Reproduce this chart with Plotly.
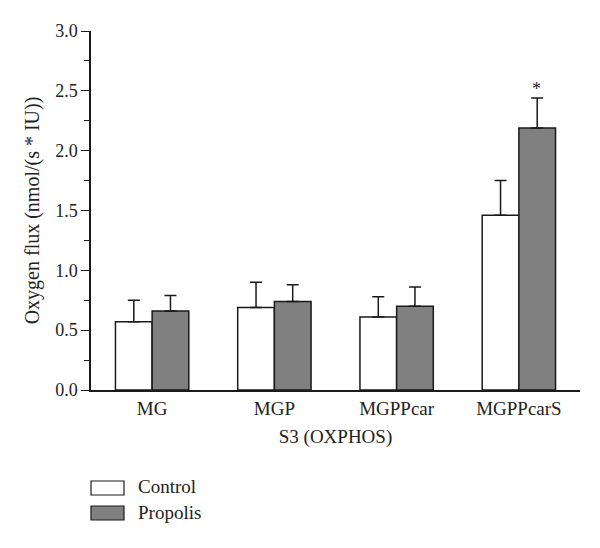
import plotly.graph_objects as go

categories = ["MG", "MGP", "MGPPcar", "MGPPcarS"]
control = [0.57, 0.69, 0.61, 1.46]
control_err = [0.18, 0.21, 0.17, 0.29]
propolis = [0.66, 0.74, 0.70, 2.19]
propolis_err = [0.13, 0.14, 0.16, 0.25]
series_names = ["Control", "Propolis"]
y_ticks = [0.0, 0.5, 1.0, 1.5, 2.0, 2.5, 3.0]

FONT = "Liberation Serif"
LINE = "#1a1a1a"
FS = 19

fig = go.Figure()
fig.add_trace(go.Bar(
    x=categories, y=control, name=series_names[0],
    marker=dict(color="white", line=dict(color=LINE, width=1.5)),
    error_y=dict(type="data", symmetric=False, array=control_err,
                 arrayminus=[0] * len(control), color=LINE, thickness=1.5, width=6),
    showlegend=False,
))
fig.add_trace(go.Bar(
    x=categories, y=propolis, name=series_names[1],
    marker=dict(color="#808080", line=dict(color=LINE, width=1.5)),
    error_y=dict(type="data", symmetric=False, array=propolis_err,
                 arrayminus=[0] * len(propolis), color=LINE, thickness=1.5, width=6),
    showlegend=False,
))

# significance star above the Propolis MGPPcarS bar
fig.add_annotation(x=categories[3], y=propolis[3] + propolis_err[3], xref="x", yref="y",
                   text="*", showarrow=False, xshift=18, yanchor="bottom", yshift=-3,
                   font=dict(family=FONT, size=18, color="#222"))

# custom legend (boxes + labels), in paper coords of a 489x359 plot area
PW, PH, L, T = 489, 359, 91, 31
legend_items = [(series_names[0], "white", 488), (series_names[1], "#808080", 513)]
for name, col, yc in legend_items:
    fig.add_shape(type="rect", xref="paper", yref="paper",
                  x0=(91 - L) / PW, x1=(124 - L) / PW,
                  y0=(T + PH - (yc + 7)) / PH, y1=(T + PH - (yc - 7)) / PH,
                  line=dict(color=LINE, width=1.2), fillcolor=col)
    fig.add_annotation(xref="paper", yref="paper", x=(136 - L) / PW, y=(T + PH - yc + 1) / PH,
                       text=name, showarrow=False, xanchor="left", yanchor="middle",
                       font=dict(family=FONT, size=FS, color="#222"))

fig.update_layout(
    width=600, height=548,
    margin=dict(l=L, r=600 - L - PW, t=T, b=548 - T - PH, pad=0),
    paper_bgcolor="white", plot_bgcolor="white",
    barmode="group", bargap=0.4, bargroupgap=0,
    font=dict(family=FONT, size=FS, color="#222"),
    xaxis=dict(
        range=[-0.5, 3.5], showline=True, linecolor=LINE, linewidth=1.5,
        ticks="", showgrid=False, zeroline=False, automargin=False,
        title=dict(text="S3 (OXPHOS)", font=dict(family=FONT, size=FS), standoff=12),
        tickfont=dict(family=FONT, size=FS),
    ),
    yaxis=dict(
        range=[0, 3.0], showline=True, linecolor=LINE, linewidth=1.5, automargin=False,
        tickvals=y_ticks, ticktext=[f"{v:.1f}" for v in y_ticks],
        ticks="outside", ticklen=8, tickwidth=1.3, tickcolor=LINE,
        minor=dict(dtick=0.25, ticks="outside", ticklen=5, tickwidth=1.2, tickcolor=LINE, showgrid=False),
        showgrid=False, zeroline=False,
        title=dict(text="Oxygen flux (nmol/(s * IU))", font=dict(family=FONT, size=20), standoff=10),
        tickfont=dict(family=FONT, size=18),
    ),
)

fig.write_html("out.html", config={"displayModeBar": False})

# remove the browser's default body margin so the figure sits at (0, 0)
with open("out.html", "r", encoding="utf-8") as f:
    html = f.read()
html = html.replace("<body>", '<body style="margin:0;padding:0;">', 1)
with open("out.html", "w", encoding="utf-8") as f:
    f.write(html)
